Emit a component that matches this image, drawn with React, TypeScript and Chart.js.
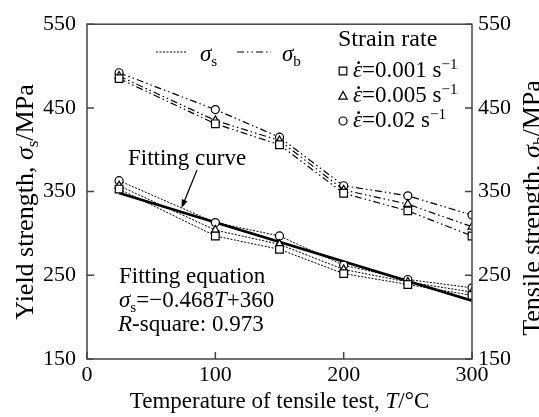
import React, { useEffect, useRef } from "react";
import { Chart, registerables } from "chart.js";

Chart.register(...registerables);

// ---- data ----
const temperatures = [25, 100, 150, 200, 250, 300];
const yieldRate0001 = [353, 297, 281, 252, 239, 226];
const yieldRate0005 = [357, 304, 287, 257, 242, 230];
const yieldRate002 = [363, 313, 297, 262, 245, 235];
const tensileRate0001 = [485, 431, 406, 348, 327, 297];
const tensileRate0005 = [488, 435, 411, 352, 335, 308];
const tensileRate002 = [492, 448, 415, 357, 345, 322];
const fitTemperatures = [25, 300];
const fitValues = [348.3, 219.6];
const yTicks = [150, 250, 350, 450, 550];
const xTicks = [0, 100, 200, 300];
const rateLabels = ["0.001", "0.005", "0.02"];
const rateMarkers = ["rect", "triangle", "circle"];

const FAMILY = '"Liberation Serif", "Times New Roman", serif';
const fnt = (size: number, italic?: boolean) => `${italic ? "italic " : ""}${size}px ${FAMILY}`;

type Part = { t: string; i?: boolean; sub?: boolean; sup?: boolean; dot?: boolean };

function measureParts(ctx: CanvasRenderingContext2D, parts: Part[], size: number) {
  let w = 0;
  for (const p of parts) {
    const s = p.sub || p.sup ? size * 0.66 : size;
    ctx.font = fnt(s, p.i);
    w += ctx.measureText(p.t).width;
  }
  return w;
}

function drawParts(ctx: CanvasRenderingContext2D, parts: Part[], x: number, y: number, size: number) {
  let cx = x;
  for (const p of parts) {
    const s = p.sub || p.sup ? size * 0.66 : size;
    ctx.font = fnt(s, p.i);
    const dy = p.sub ? size * 0.2 : p.sup ? -size * 0.36 : 0;
    ctx.fillText(p.t, cx, y + dy);
    const w = ctx.measureText(p.t).width;
    if (p.dot) {
      ctx.beginPath();
      ctx.arc(cx + w * 0.62, y - size * 0.62, size * 0.06, 0, Math.PI * 2);
      ctx.fill();
    }
    cx += w;
  }
  return cx - x;
}

function drawMarker(ctx: CanvasRenderingContext2D, kind: string, x: number, y: number) {
  ctx.save();
  ctx.lineWidth = 1.2;
  ctx.strokeStyle = "#000";
  ctx.fillStyle = "#fff";
  ctx.setLineDash([]);
  ctx.beginPath();
  if (kind === "rect") {
    ctx.rect(x - 3.8, y - 3.8, 7.6, 7.6);
  } else if (kind === "triangle") {
    ctx.moveTo(x, y - 4.6);
    ctx.lineTo(x + 4.2, y + 3.2);
    ctx.lineTo(x - 4.2, y + 3.2);
    ctx.closePath();
  } else {
    ctx.arc(x, y, 4, 0, Math.PI * 2);
  }
  ctx.fill();
  ctx.stroke();
  ctx.restore();
}

const YS_DASH = [2, 1.5];
const TS_DASH = [7, 3, 1.5, 3, 1.5, 3];

const decorPlugin = {
  id: "decor",
  afterDraw(chart: any) {
    const ctx: CanvasRenderingContext2D = chart.ctx;
    const { left, right, top, bottom } = chart.chartArea;
    const xs = chart.scales.x;
    const ys = chart.scales.y;
    ctx.save();
    // frame
    ctx.strokeStyle = "#444";
    ctx.lineWidth = 1.5;
    ctx.setLineDash([]);
    ctx.strokeRect(left, top, right - left, bottom - top);
    // inward ticks
    ctx.beginPath();
    for (const v of yTicks) {
      const py = ys.getPixelForValue(v);
      ctx.moveTo(left, py);
      ctx.lineTo(left + 7, py);
      ctx.moveTo(right, py);
      ctx.lineTo(right - 7, py);
    }
    for (const v of xTicks) {
      const px = xs.getPixelForValue(v);
      ctx.moveTo(px, bottom);
      ctx.lineTo(px, bottom - 7);
    }
    ctx.stroke();

    ctx.fillStyle = "#000";
    ctx.textBaseline = "alphabetic";
    ctx.textAlign = "left";
    const S = 23;

    // x title
    const xTitle: Part[] = [{ t: "Temperature of tensile test, " }, { t: "T", i: true }, { t: "/°C" }];
    const xw = measureParts(ctx, xTitle, S);
    drawParts(ctx, xTitle, (left + right) / 2 - xw / 2, 408, S);

    // left y title
    const T = 26;
    const lTitle: Part[] = [{ t: "Yield strength, " }, { t: "σ", i: true }, { t: "s", sub: true }, { t: "/MPa" }];
    ctx.save();
    ctx.translate(33, 202);
    ctx.rotate(-Math.PI / 2);
    const lw = measureParts(ctx, lTitle, T);
    drawParts(ctx, lTitle, -lw / 2, 0, T);
    ctx.restore();

    // right y title
    const rTitle: Part[] = [{ t: "Tensile strength, " }, { t: "σ", i: true }, { t: "b", sub: true }, { t: "/MPa" }];
    ctx.save();
    ctx.translate(540, 208);
    ctx.rotate(-Math.PI / 2);
    const rw = measureParts(ctx, rTitle, T);
    drawParts(ctx, rTitle, -rw / 2, 0, T);
    ctx.restore();

    // line style legend
    ctx.strokeStyle = "#000";
    ctx.lineWidth = 1;
    ctx.setLineDash(YS_DASH);
    ctx.beginPath();
    ctx.moveTo(156, 52);
    ctx.lineTo(187, 52);
    ctx.stroke();
    drawParts(ctx, [{ t: "σ", i: true }, { t: "s", sub: true }], 200, 61, S);
    ctx.lineWidth = 1.2;
    ctx.setLineDash(TS_DASH);
    ctx.beginPath();
    ctx.moveTo(237, 52);
    ctx.lineTo(271, 52);
    ctx.stroke();
    ctx.setLineDash([]);
    drawParts(ctx, [{ t: "σ", i: true }, { t: "b", sub: true }], 282, 61, S);

    // strain rate legend
    drawParts(ctx, [{ t: "Strain rate" }], 338, 46, 24);
    const rowY = [77, 102, 127];
    rateLabels.forEach((lab, k) => {
      drawMarker(ctx, rateMarkers[k], 343, rowY[k] - 6);
      drawParts(
        ctx,
        [{ t: "\u03B5", i: true, dot: true }, { t: "=" + lab + " s" }, { t: "\u22121", sup: true }],
        353,
        rowY[k],
        S
      );
    });

    // fitting curve label + arrow
    drawParts(ctx, [{ t: "Fitting curve" }], 128, 165, S);
    ctx.lineWidth = 1.2;
    ctx.beginPath();
    ctx.moveTo(197, 170);
    ctx.lineTo(184, 202);
    ctx.stroke();
    const ang = Math.atan2(202 - 170, 184 - 197);
    const tipX = 181.5, tipY = 208;
    ctx.beginPath();
    ctx.moveTo(tipX, tipY);
    ctx.lineTo(tipX - 9 * Math.cos(ang - 0.35), tipY - 9 * Math.sin(ang - 0.35));
    ctx.lineTo(tipX - 9 * Math.cos(ang + 0.35), tipY - 9 * Math.sin(ang + 0.35));
    ctx.closePath();
    ctx.fill();

    // fitting equation
    drawParts(ctx, [{ t: "Fitting equation" }], 119, 283, S);
    drawParts(
      ctx,
      [{ t: "σ", i: true }, { t: "s", sub: true }, { t: "=\u22120.468" }, { t: "T", i: true }, { t: "+360" }],
      119,
      307,
      S
    );
    drawParts(ctx, [{ t: "R", i: true }, { t: "-square: 0.973" }], 118, 331, S);

    ctx.restore();
  },
};

function series(values: number[], xsArr: number[]) {
  return xsArr.map((x, i) => ({ x, y: values[i] }));
}

export default function App() {
  const ref = useRef<HTMLCanvasElement | null>(null);
  useEffect(() => {
    if (!ref.current) return;
    const yieldSets = [yieldRate0001, yieldRate0005, yieldRate002];
    const tensileSets = [tensileRate0001, tensileRate0005, tensileRate002];
    const datasets: any[] = [];
    const radius = (m: string) => (m === "rect" ? 5.4 : m === "triangle" ? 4.6 : 4);
    tensileSets.forEach((vals, k) => {
      datasets.push({
        label: "σb " + rateLabels[k],
        data: series(vals, temperatures),
        borderColor: "#000",
        borderWidth: 1.2,
        borderDash: TS_DASH,
        pointStyle: rateMarkers[k],
        pointRadius: radius(rateMarkers[k]),
        pointBorderWidth: 1.2,
        pointBorderColor: "#000",
        pointBackgroundColor: "#fff",
        tension: 0,
        yAxisID: "y",
      });
    });
    yieldSets.forEach((vals, k) => {
      datasets.push({
        label: "σs " + rateLabels[k],
        data: series(vals, temperatures),
        borderColor: "#000",
        borderWidth: 1,
        borderDash: YS_DASH,
        pointStyle: rateMarkers[k],
        pointRadius: radius(rateMarkers[k]),
        pointBorderWidth: 1.2,
        pointBorderColor: "#000",
        pointBackgroundColor: "#fff",
        tension: 0,
        yAxisID: "y",
      });
    });
    datasets.push({
      label: "Fitting curve",
      data: series(fitValues, fitTemperatures),
      borderColor: "#000",
      borderWidth: 2.8,
      pointRadius: 0,
      yAxisID: "y",
    });

    const tickFont = { family: FAMILY, size: 22 };
    const chart = new Chart(ref.current, {
      type: "line",
      data: { datasets },
      options: {
        animation: false,
        responsive: true,
        maintainAspectRatio: false,
        layout: { padding: { top: 18, left: 0, right: 0, bottom: 0 } },
        plugins: { legend: { display: false }, tooltip: { enabled: false } },
        scales: {
          x: {
            type: "linear",
            min: 0,
            max: 300,
            afterBuildTicks: (s: any) => {
              s.ticks = xTicks.map((v) => ({ value: v }));
            },
            ticks: { font: tickFont, color: "#000", padding: 3, maxRotation: 0 },
            grid: { display: false, drawTicks: false },
            border: { display: false },
            afterFit: (s: any) => {
              s.height = 58;
            },
          },
          y: {
            position: "left",
            min: 150,
            max: 550,
            afterBuildTicks: (s: any) => {
              s.ticks = yTicks.map((v) => ({ value: v }));
            },
            ticks: { font: tickFont, color: "#000", padding: 11 },
            grid: { display: false, drawTicks: false },
            border: { display: false },
            afterFit: (s: any) => {
              s.width = 87;
            },
          },
          y2: {
            position: "right",
            min: 150,
            max: 550,
            afterBuildTicks: (s: any) => {
              s.ticks = yTicks.map((v) => ({ value: v }));
            },
            ticks: { font: tickFont, color: "#000", padding: 6 },
            grid: { display: false, drawTicks: false },
            border: { display: false },
            afterFit: (s: any) => {
              s.width = 67;
            },
          },
        },
      },
      plugins: [decorPlugin],
    });
    return () => chart.destroy();
  }, []);

  return (
    <div style={{ position: "fixed", left: 0, top: 0, width: 539, height: 417, background: "#fff" }}>
      <canvas ref={ref} />
    </div>
  );
}
